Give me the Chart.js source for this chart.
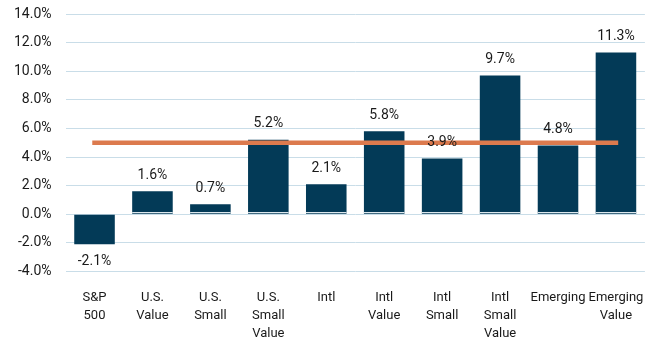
<!DOCTYPE html>
<html>
<head>
<meta charset="utf-8">
<script src="https://cdn.jsdelivr.net/npm/chart.js@4"></script>
<style>
  html, body { margin: 0; padding: 0; background: #fff; }
  #wrap { width: 661px; height: 346px; }
</style>
</head>
<body>
<div id="wrap"><canvas id="myChart" width="661" height="346"></canvas></div>
<script>
var categories = [["S&P", "500"], ["U.S.", "Value"], ["U.S.", "Small"], ["U.S.", "Small", "Value"], ["Intl"],
  ["Intl", "Value"], ["Intl", "Small"], ["Intl", "Small", "Value"], ["Emerging"], ["Emerging", "Value"]];
var returns = [-2.1, 1.6, 0.7, 5.2, 2.1, 5.8, 3.9, 9.7, 4.8, 11.3];
var average_line = [5.0, 5.0, 5.0, 5.0, 5.0, 5.0, 5.0, 5.0, 5.0, 5.0];
var y_ticks = [-4, -2, 0, 2, 4, 6, 8, 10, 12, 14];

var FONT = "Roboto, 'DejaVu Sans Condensed', sans-serif";

// value labels above / below each bar
var bar_labels = {
  id: 'bar_labels',
  afterDatasetsDraw: function(chart) {
    var ctx = chart.ctx;
    var meta = chart.getDatasetMeta(1);
    var y0 = chart.scales.y.getPixelForValue(0);
    ctx.save();
    // thin light line at the base of the positive bars
    ctx.fillStyle = '#dde8ee';
    meta.data.forEach(function(bar, i) {
      if (returns[i] > 0) {
        ctx.fillRect(bar.x - bar.width / 2, Math.round(y0) - 2, bar.width, 1);
      }
    });
    ctx.font = '14px ' + FONT;
    ctx.fillStyle = '#1a1a1a';
    ctx.textAlign = 'center';
    meta.data.forEach(function(bar, i) {
      var txt = returns[i].toFixed(1) + '%';
      if (returns[i] >= 0) {
        ctx.textBaseline = 'bottom';
        ctx.fillText(txt, bar.x, bar.y - 9);
      } else {
        ctx.textBaseline = 'top';
        ctx.fillText(txt, bar.x, bar.y + 10);
      }
    });
    ctx.restore();
  }
};

var myChart = new Chart(document.getElementById('myChart'), {
  data: {
    labels: categories,
    datasets: [
      {
        type: 'line',
        label: 'Average',
        data: average_line,
        borderColor: '#dc7a4e',
        borderWidth: 4.5,
        borderCapStyle: 'square',
        pointRadius: 0,
        order: 0
      },
      {
        type: 'bar',
        label: 'Return',
        data: returns,
        backgroundColor: '#033a57',
        categoryPercentage: 0.7,
        barPercentage: 1.0,
        order: 1
      }
    ]
  },
  options: {
    responsive: false,
    animation: false,
    layout: { padding: { top: 14, right: 12, bottom: -14, left: 0 } },
    plugins: { legend: { display: false }, tooltip: { enabled: false } },
    scales: {
      x: {
        grid: { display: false, drawTicks: false },
        border: { display: false },
        ticks: {
          color: '#1a1a1a',
          font: { family: FONT, size: 13, lineHeight: 1.4 },
          padding: 17,
          maxRotation: 0,
          autoSkip: false
        }
      },
      y: {
        min: -4,
        max: 14,
        afterBuildTicks: function(axis) {
          axis.ticks = y_ticks.map(function(v) { return { value: v }; });
        },
        afterFit: function(axis) {
          axis.paddingTop = 0;
        },
        grid: { color: '#c9dde8', lineWidth: 1, drawTicks: false },
        border: { display: false },
        ticks: {
          color: '#1a1a1a',
          font: { family: FONT, size: 14 },
          padding: 14,
          callback: function(v) { return v.toFixed(1) + '%'; }
        }
      }
    }
  },
  plugins: [bar_labels]
});
</script>
</body>
</html>
